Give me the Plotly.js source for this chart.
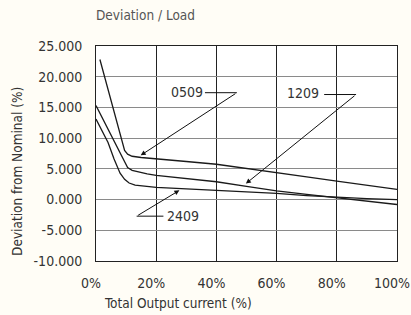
<!DOCTYPE html>
<html>
<head>
<meta charset="utf-8">
<script src="https://cdn.plot.ly/plotly-3.0.1.min.js"></script>
<style>html,body{margin:0;padding:0;background:#fffdf6;}#chart{width:411px;height:315px;}</style>
</head>
<body>
<div id="chart"></div>
<script>
// Data (x = total output current %, y = deviation from nominal %)
const x0509 = [1.3, 4, 7, 8.5, 9.5, 10.5, 12, 15, 20, 30, 40, 50, 60, 70, 80, 90, 100];
const y0509 = [22.8, 17.8, 12.2, 9.5, 8.0, 7.4, 7.05, 6.85, 6.6, 6.2, 5.75, 5.1, 4.4, 3.7, 3.0, 2.3, 1.65];

const x1209 = [0, 4, 8, 9.5, 10.5, 12, 14, 17, 20, 30, 40, 50, 60, 70, 80, 90, 100];
const y1209 = [15.3, 11.4, 7.5, 6.0, 5.2, 4.75, 4.5, 4.2, 3.95, 3.4, 2.9, 2.15, 1.4, 0.85, 0.3, -0.25, -0.8];

const x2409 = [0, 2, 4, 6, 8, 9.5, 11, 13, 16, 20, 30, 40, 50, 60, 70, 80, 90, 100];
const y2409 = [13.1, 11.3, 9.3, 6.6, 4.3, 3.3, 2.7, 2.35, 2.15, 2.0, 1.75, 1.5, 1.3, 1.0, 0.65, 0.35, 0.15, 0.0];

const seriesNames = ["0509", "1209", "2409"];

// Callout labels: text position, elbow (corner) of leader line, horizontal leader start, arrow tip
const labelX = [30.2, 68.8, 28.9];
const labelY = [17.5, 17.3, -2.6];
const leadStartX = [36.2, 75.8, 22.4];
const elbowX = [46.8, 86.4, 13.5];
const elbowY = [17.4, 17.1, -2.7];
const tipX = [14.85, 49.8, 27.7];
const tipY = [7.2, 2.6, 1.5];

const xTickVals = [0, 20, 40, 60, 80, 100];
const xTickText = ["0%", "20%", "40%", "60%", "80%", "100%"];
const yTickVals = [-10, -5, 0, 5, 10, 15, 20, 25];
const yTickText = ["-10.000", "-5.000", "0.000", "5.000", "10.000", "15.000", "20.000", "25.000"];

const FONT = "DejaVu Sans Condensed, Liberation Sans Narrow, sans-serif";

const xs = [x0509, x1209, x2409];
const ys = [y0509, y1209, y2409];
const traces = xs.map((xv, i) => ({
  x: xv, y: ys[i], name: seriesNames[i], type: "scatter", mode: "lines",
  line: {color: "#1a1a1a", width: 1.3}, hoverinfo: "skip"
}));

const annotations = [];
const shapes = [];
for (let i = 0; i < seriesNames.length; i++) {
  annotations.push({
    x: labelX[i], y: labelY[i], xref: "x", yref: "y", text: seriesNames[i],
    showarrow: false, font: {family: FONT, size: 14, color: "#333"}
  });
  annotations.push({
    x: tipX[i], y: tipY[i], xref: "x", yref: "y", ax: elbowX[i], ay: elbowY[i],
    axref: "x", ayref: "y", text: "", showarrow: true, arrowhead: 2, arrowsize: 1,
    arrowwidth: 1, arrowcolor: "#111", standoff: 0, startstandoff: 0
  });
  shapes.push({
    type: "line", xref: "x", yref: "y", x0: leadStartX[i], x1: elbowX[i],
    y0: elbowY[i], y1: elbowY[i], line: {color: "#111", width: 1}
  });
}
annotations.push({
  text: "Total Output current (%)", xref: "paper", yref: "paper", x: 0.271, y: -0.197,
  xanchor: "center", yanchor: "middle", showarrow: false, font: {family: FONT, size: 13.5, color: "#333"}
});
annotations.push({
  text: "Deviation from Nominal (%)", xref: "paper", yref: "paper", x: -0.262, y: 0.415,
  xanchor: "center", yanchor: "middle", textangle: -90, showarrow: false,
  font: {family: FONT, size: 13.5, color: "#333"}
});

const layout = {
  width: 411, height: 315,
  margin: {l: 96, r: 14, t: 46, b: 54, pad: 0},
  paper_bgcolor: "#fffdf6", plot_bgcolor: "#ffffff",
  showlegend: false,
  title: {text: "Deviation / Load", xref: "paper", x: 0, xanchor: "left", y: 0.952, yanchor: "middle",
          font: {family: FONT, size: 13.5, color: "#555"}},
  xaxis: {range: [0, 100], tickvals: xTickVals, ticktext: xTickText, showgrid: true,
          gridcolor: "#222", gridwidth: 1, showline: true, linecolor: "#222", linewidth: 1, mirror: true,
          zeroline: false, ticks: "", ticklabelshift: -5, ticklabelstandoff: 9, ticklabeloverflow: "allow",
          tickfont: {family: FONT, size: 14, color: "#333"}, fixedrange: true},
  yaxis: {range: [-10, 25], tickvals: yTickVals, ticktext: yTickText, showgrid: true,
          gridcolor: "#8a8a8a", gridwidth: 1.2, showline: true, linecolor: "#222", linewidth: 1, mirror: true,
          zeroline: false, ticks: "", ticklabelstandoff: 10,
          tickfont: {family: FONT, size: 14, color: "#333"}, fixedrange: true},
  annotations: annotations, shapes: shapes
};

Plotly.newPlot("chart", traces, layout, {displayModeBar: false, staticPlot: true});
</script>
</body>
</html>
